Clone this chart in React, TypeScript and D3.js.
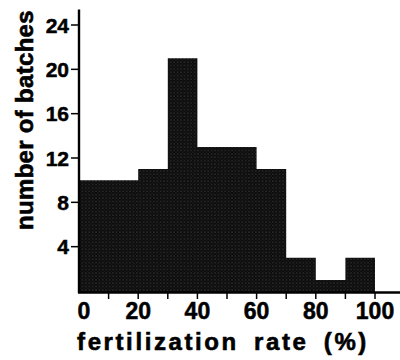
import React from "react";
import * as d3 from "d3";

const binStarts = [0, 10, 20, 30, 40, 50, 60, 70, 80, 90];
const binWidth = 10;
const counts = [10, 10, 11, 21, 13, 13, 11, 3, 1, 3];
const yTicks = [4, 8, 12, 16, 20, 24];
const xTicks = [10, 20, 30, 40, 50, 60, 70, 80, 90, 100];
const xLabels = [0, 20, 40, 60, 80, 100];
const xTitle = "fertilization rate (%)";
const yTitle = "number of batches";

const W = 400;
const H = 360;

export default function App() {
  const x = d3.scaleLinear().domain([0, 100]).range([79, 375]);
  const y = d3.scaleLinear().domain([0, 24]).range([291, 25]);
  const font = "'Liberation Sans', Arial, Helvetica, sans-serif";
  const yTop = y(25.4);
  const steps: [number, number][] = binStarts.map((b, i) => [b, counts[i]]);
  const last = binStarts[binStarts.length - 1] + binWidth;
  steps.push([last, counts[counts.length - 1]]);
  const area = d3
    .area<[number, number]>()
    .x((d) => x(d[0]))
    .y0(y(0) + 1)
    .y1((d) => y(d[1]))
    .curve(d3.curveStepAfter);
  return (
    <svg
      width={W}
      height={H}
      style={{ position: "absolute", left: 0, top: 0, background: "#fff" }}
    >
      <defs>
        <pattern id="dots" width="3.4" height="3.4" patternUnits="userSpaceOnUse">
          <rect width="3.4" height="3.4" fill="#0c0c0c" />
          <circle cx="0.85" cy="0.85" r="0.45" fill="#8a8a8a" />
          <circle cx="2.55" cy="2.55" r="0.35" fill="#555" />
        </pattern>
      </defs>
      <path d={area(steps) || ""} fill="url(#dots)" />
      {/* axes */}
      <line x1={x(0)} x2={x(0)} y1={yTop} y2={y(0) + 2} stroke="#000" strokeWidth={2.4} />
      <line x1={x(0) - 1} x2={W} y1={y(0) + 1.5} y2={y(0) + 1.5} stroke="#000" strokeWidth={2.6} />
      {yTicks.map((t) => (
        <g key={t}>
          <line x1={x(0) - 8} x2={x(0)} y1={y(t)} y2={y(t)} stroke="#000" strokeWidth={1.5} />
          <text
            x={x(0) - 10}
            y={y(t)}
            dy="0.36em"
            textAnchor="end"
            fontFamily={font}
            fontWeight="bold"
            fontSize={21}
            stroke="#000"
            strokeWidth={0.5}
            fill="#000"
          >
            {t}
          </text>
        </g>
      ))}
      {xTicks.map((t) => (
        <line key={t} x1={x(t)} x2={x(t)} y1={y(0) + 2} y2={y(0) + 8} stroke="#000" strokeWidth={1.5} />
      ))}
      {xLabels.map((t) => (
        <text
          key={t}
          x={t === 0 ? x(t) + 5 : x(t)}
          y={319}
          textAnchor="middle"
          fontFamily={font}
          fontWeight="bold"
          fontSize={23}
          stroke="#000"
          strokeWidth={0.5}
          fill="#000"
        >
          {t}
        </text>
      ))}
      <text
        x={223}
        y={350}
        textAnchor="middle"
        fontFamily={font}
        fontWeight="bold"
        fontSize={24}
        letterSpacing={2.6}
        wordSpacing={6}
        stroke="#000"
        strokeWidth={0.6}
        fill="#000"
      >
        {xTitle}
      </text>
      <text
        transform={`translate(33, 120) rotate(-90)`}
        textAnchor="middle"
        fontFamily={font}
        fontWeight="bold"
        fontSize={24}
        letterSpacing={0.3}
        stroke="#000"
        strokeWidth={0.6}
        fill="#000"
      >
        {yTitle}
      </text>
    </svg>
  );
}
